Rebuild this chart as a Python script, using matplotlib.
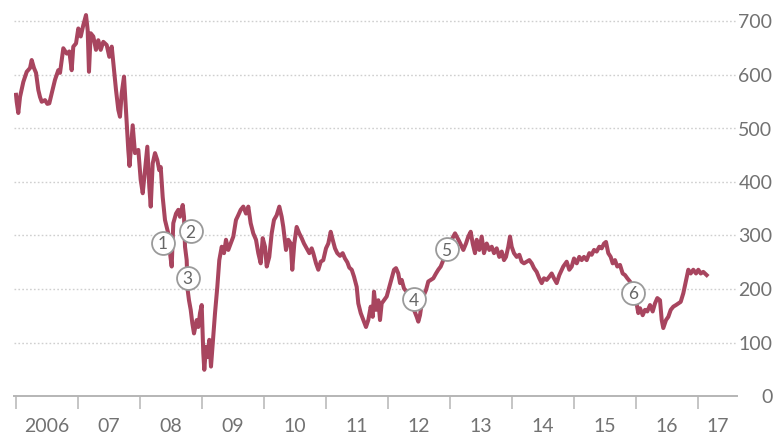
import matplotlib
matplotlib.use("Agg")
import matplotlib.pyplot as plt
from matplotlib.ticker import FixedLocator, NullFormatter

# ---- data ----
# time in years since 1 Jan 2006
t_years = [
    0.000, 0.011, 0.037, 0.065, 0.118, 0.173, 0.226, 0.253, 0.290, 0.323,
    0.360, 0.387, 0.415, 0.468, 0.505, 0.537, 0.576, 0.629, 0.682, 0.710,
    0.763, 0.818, 0.860, 0.898, 0.924, 0.968, 1.005, 1.044, 1.085, 1.129,
    1.156, 1.177, 1.205, 1.247, 1.290, 1.327, 1.366, 1.408, 1.463, 1.505,
    1.544, 1.581, 1.613, 1.650, 1.677, 1.705, 1.742, 1.774, 1.811, 1.831,
    1.882, 1.919, 1.973, 2.011, 2.044, 2.081, 2.118, 2.150, 2.173, 2.205,
    2.242, 2.279, 2.311, 2.334, 2.366, 2.403, 2.456, 2.484, 2.511, 2.537,
    2.581, 2.618, 2.645, 2.689, 2.710, 2.726, 2.753, 2.769, 2.790, 2.818,
    2.844, 2.871, 2.915, 2.940, 2.968, 2.995, 3.021, 3.037, 3.065, 3.092,
    3.118, 3.145, 3.182, 3.210, 3.247, 3.279, 3.318, 3.355, 3.387, 3.424,
    3.463, 3.505, 3.548, 3.585, 3.624, 3.666, 3.710, 3.747, 3.785, 3.827,
    3.871, 3.908, 3.947, 3.979, 4.016, 4.044, 4.085, 4.124, 4.161, 4.205,
    4.247, 4.285, 4.311, 4.355, 4.392, 4.431, 4.456, 4.489, 4.527, 4.569,
    4.608, 4.645, 4.689, 4.731, 4.769, 4.795, 4.839, 4.876, 4.915, 4.956,
    5.000, 5.037, 5.076, 5.108, 5.145, 5.182, 5.226, 5.269, 5.306, 5.344,
    5.376, 5.415, 5.452, 5.495, 5.521, 5.560, 5.602, 5.645, 5.682, 5.721,
    5.753, 5.774, 5.806, 5.844, 5.871, 5.898, 5.935, 5.979, 6.021, 6.060,
    6.097, 6.129, 6.166, 6.194, 6.221, 6.258, 6.302, 6.344, 6.382, 6.419,
    6.463, 6.489, 6.516, 6.544, 6.569, 6.613, 6.650, 6.689, 6.731, 6.774,
    6.811, 6.850, 6.892, 6.935, 6.973, 7.027, 7.081, 7.145, 7.215, 7.258,
    7.295, 7.334, 7.366, 7.403, 7.431, 7.473, 7.511, 7.548, 7.592, 7.634,
    7.673, 7.710, 7.753, 7.795, 7.834, 7.871, 7.903, 7.940, 7.968, 7.995,
    8.032, 8.076, 8.118, 8.156, 8.194, 8.237, 8.279, 8.318, 8.355, 8.398,
    8.440, 8.479, 8.516, 8.560, 8.602, 8.640, 8.677, 8.721, 8.763, 8.827,
    8.882, 8.924, 8.963, 9.000, 9.044, 9.085, 9.124, 9.161, 9.205, 9.247,
    9.285, 9.323, 9.366, 9.408, 9.447, 9.484, 9.516, 9.553, 9.592, 9.624,
    9.661, 9.698, 9.742, 9.785, 9.823, 9.860, 9.903, 9.952, 10.000, 10.037,
    10.065, 10.108, 10.145, 10.182, 10.226, 10.269, 10.306, 10.344, 10.387, 10.415,
    10.440, 10.484, 10.521, 10.560, 10.602, 10.645, 10.682, 10.721, 10.763, 10.790,
    10.818, 10.844, 10.882, 10.924, 10.968, 11.005, 11.044, 11.085, 11.140,
]
price = [
    563, 550, 529, 559, 587, 606, 613, 628, 613, 604,
    572, 559, 550, 553, 546, 547, 566, 591, 609, 604,
    650, 640, 644, 609, 653, 659, 687, 672, 693, 712,
    684, 606, 678, 672, 647, 665, 647, 662, 656, 634,
    653, 609, 572, 535, 522, 566, 597, 535, 460, 430,
    506, 454, 460, 404, 379, 422, 466, 391, 354, 435,
    454, 441, 422, 428, 372, 329, 304, 267, 242, 323,
    341, 348, 335, 357, 335, 279, 254, 198, 179, 161,
    136, 117, 142, 129, 155, 170, 80, 49, 92, 73,
    105, 55, 111, 155, 204, 254, 279, 267, 292, 273,
    285, 298, 329, 338, 348, 354, 341, 354, 323, 304,
    292, 267, 248, 295, 279, 242, 260, 304, 329, 338,
    354, 335, 316, 273, 292, 285, 236, 285, 316, 304,
    295, 285, 276, 267, 276, 267, 248, 236, 251, 254,
    276, 285, 307, 292, 276, 267, 262, 267, 257, 250,
    240, 236, 223, 204, 173, 155, 142, 129, 142, 167,
    148, 195, 161, 179, 142, 173, 179, 186, 204, 220,
    236, 239, 229, 211, 217, 201, 195, 186, 173, 161,
    148, 139, 151, 173, 186, 198, 214, 217, 220, 229,
    236, 242, 254, 260, 270, 292, 304, 290, 273, 285,
    298, 307, 285, 267, 292, 273, 298, 267, 285, 273,
    279, 267, 276, 260, 270, 254, 260, 279, 298, 279,
    267, 260, 264, 251, 248, 251, 254, 248, 239, 232,
    220, 211, 220, 217, 223, 229, 220, 211, 226, 242,
    251, 236, 242, 257, 248, 260, 254, 260, 254, 267,
    264, 273, 270, 279, 276, 285, 288, 267, 260, 248,
    254, 242, 245, 229, 226, 220, 214, 200, 179, 155,
    164, 151, 161, 158, 170, 158, 173, 183, 179, 142,
    127, 142, 148, 161, 167, 170, 173, 176, 192, 207,
    223, 236, 229, 236, 229, 236, 229, 232, 226,
]
base_year = 2006
year_ticks = list(range(2006, 2018))
year_labels = ["2006", "07", "08", "09", "10", "11", "12", "13", "14", "15", "16", "17"]
y_ticks = [0, 100, 200, 300, 400, 500, 600, 700]

# numbered event markers
event_labels = ["1", "2", "3", "4", "5", "6"]
event_t = [2.371, 2.818, 2.769, 6.419, 6.944, 9.947]
event_val = [286, 308, 221, 181, 274, 193]

LINE = "#a8455f"
GREY_TXT = "#727272"
GRID = "#cfcfcf"
AXIS = "#b5b5b5"
FONT = "Lato"
WEIGHT = "normal"

fig = plt.figure(figsize=(7.8, 4.36), dpi=100)
ax = fig.add_axes([14 / 780, 40 / 436, 723 / 780, 386 / 436])

x = [base_year + v for v in t_years]
ax.plot(x, price, color=LINE, lw=2.9, solid_joinstyle="round", zorder=3)

xmin, xmax = base_year - 2 / 62, base_year + (737 - 16) / 62
ax.set_xlim(xmin, xmax)
ax.set_ylim(0, (396 - 10) / 0.535)

# gridlines
for v in y_ticks[1:]:
    ax.axhline(v, color=GRID, lw=1.0, ls=(0, (1.2, 1.6)), zorder=1)

for s in ["top", "left", "right"]:
    ax.spines[s].set_visible(False)
ax.spines["bottom"].set_color(AXIS)
ax.spines["bottom"].set_linewidth(1.4)

# y axis on right
ax.yaxis.tick_right()
ax.set_yticks(y_ticks)
ax.set_yticklabels([str(v) for v in y_ticks])
ax.tick_params(axis="y", length=0, pad=25.5, labelsize=14, labelcolor=GREY_TXT)
for lab in ax.get_yticklabels():
    lab.set_horizontalalignment("right")
    lab.set_fontfamily(FONT)
    lab.set_fontweight(WEIGHT)

# x axis: tick marks at year starts, labels centered in years
ax.xaxis.set_major_locator(FixedLocator(year_ticks))
ax.xaxis.set_major_formatter(NullFormatter())
ax.tick_params(axis="x", which="major", length=9, width=1.1, color=AXIS, direction="out")
label_pos = [y + 0.5 for y in year_ticks[:-1]] + [(year_ticks[-1] + xmax) / 2]
ax.set_xticks(label_pos, minor=True)
ax.set_xticklabels(year_labels, minor=True)
ax.tick_params(axis="x", which="minor", length=0, pad=15.5, labelsize=14, labelcolor=GREY_TXT)
for lab in ax.get_xticklabels(minor=True):
    lab.set_fontfamily(FONT)
    lab.set_fontweight(WEIGHT)

# event circles
for lab, tt, vv in zip(event_labels, event_t, event_val):
    ax.plot(base_year + tt, vv, "o", ms=16.5, mfc="white", mec="#9a9a9a", mew=1.3, zorder=5)
    ax.text(base_year + tt, vv, lab, ha="center", va="center_baseline", fontsize=12.5,
            color="#666666", family=FONT, fontweight=WEIGHT, zorder=6)

fig.savefig("out.png", dpi=100)
